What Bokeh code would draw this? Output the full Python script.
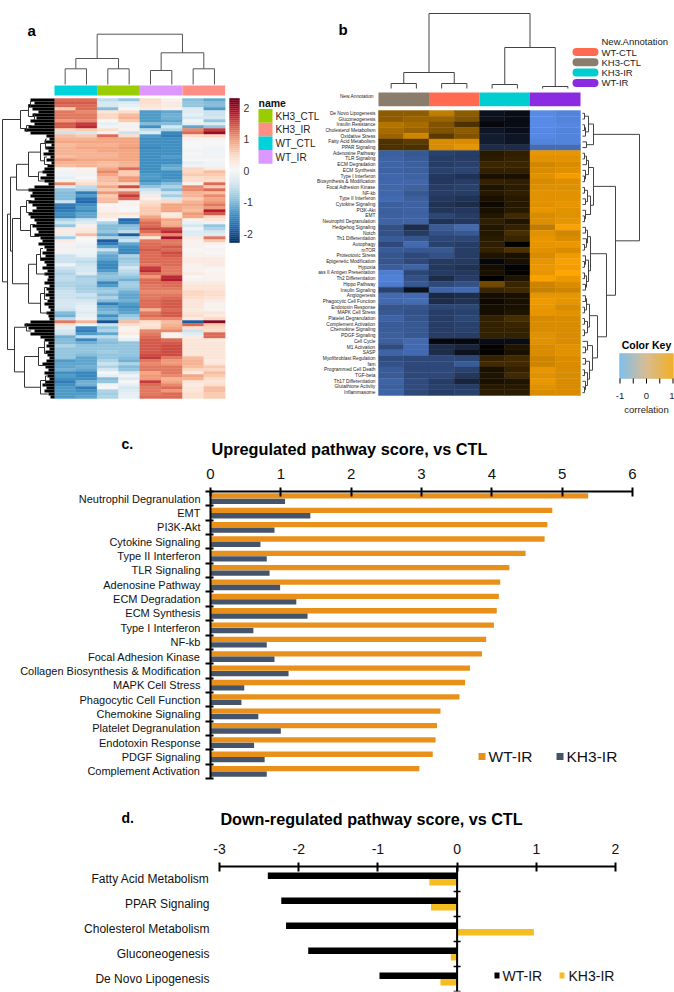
from bokeh.plotting import figure
from bokeh.layouts import column
from bokeh.models import Range1d, FixedTicker, Span, LinearColorMapper
from bokeh.core.properties import value
from bokeh.transform import transform
from bokeh.embed import file_html
from bokeh.resources import INLINE

# ---- panel a ----
groups_a = ["KH3_CTL", "KH3_IR", "WT_CTL", "WT_IR"]
group_colors_a = ["#9ACD00", "#FF8F85", "#00D2DC", "#DC98FF"]
col_groups_a = ["WT_CTL", "KH3_CTL", "WT_IR", "KH3_IR"]
colorbar_ticks_a = [2, 1, 0, -1, -2]
heat_a = [
[1.3,1.3,-.6,-.9,.4,.1,-1.0,-1.2],[1.4,1.4,-.4,-.3,.4,.2,-.9,-1.0],[1.3,1.3,-.4,-.2,.3,.2,-.9,-1.0],
[.6,1.3,-1.0,.0,.2,.1,-.3,-1.3],[1.2,1.1,.3,.4,-1.3,-1.2,-.3,-.5],[1.2,1.2,.5,.7,-1.3,-1.1,-.2,-.5],
[1.2,1.2,.5,.8,-1.3,-1.1,-.4,-.4],[1.0,1.1,.0,.6,-1.3,-1.2,-.1,-.9],[1.4,1.6,-.2,.1,-1.0,-1.0,-.2,-.3],
[1.4,1.7,-.1,-.1,-1.4,-.4,-1.2,-.9],[.5,.6,.4,.1,-.6,-.7,1.1,1.6],[-.5,-.4,-.1,-.5,-.3,-1.5,1.3,2.0],
[.7,.6,1.3,.4,-1.3,-1.6,.4,.5],[.8,.8,.9,.9,-1.4,-1.4,.1,.1],[.9,.9,.9,.9,-1.4,-1.4,.0,.0],
[.7,.8,.8,.9,-1.4,-1.4,.0,.0],[.8,.9,.9,1.0,-1.5,-1.4,.0,-.1],[.8,.8,.9,.9,-1.4,-1.4,-.1,-.1],
[.8,.8,.8,.9,-1.4,-1.4,.0,-.1],[.7,.8,.8,.9,-1.4,-1.3,-.1,-.1],[1.0,.9,.9,.9,-1.4,-1.4,.0,.0],
[.8,.8,.7,.8,-1.4,-1.4,-.2,-.1],[.7,.8,.7,.8,-1.4,-1.2,-.1,-.1],[.0,.1,.9,1.3,-1.4,-1.1,.5,.2],
[-.1,.1,1.1,.6,-1.4,-1.4,.5,.7],[-.1,-.1,.9,.6,-1.3,-1.4,.6,.6],[-.2,.0,.7,1.0,-1.3,-1.4,.4,.5],
[.1,.2,.7,1.0,-1.4,-1.3,.4,.4],[1.1,.4,.6,.5,-1.2,-1.0,.1,1.3],[-.3,-.6,.9,1.5,-.9,-.7,1.1,.6],
[-.9,-.7,.6,.5,-.5,-1.0,1.1,1.3],[-1.0,-1.6,1.0,1.2,-.3,-.5,.8,.7],[-1.0,-1.3,.6,1.6,.2,-.8,.8,1.1],
[-1.0,-1.7,.7,1.3,.1,-.4,.6,.9],[-.5,-1.8,.7,.0,.4,.5,.8,1.0],[-1.6,-1.4,.0,.1,.5,.9,.9,1.2],
[-1.7,-1.3,.1,.0,.6,.9,.8,1.0],[-1.6,-1.4,.1,.0,.6,.9,.7,1.8],[-1.4,-1.2,.3,.3,.6,.2,1.0,1.4],
[-1.5,-1.2,.2,.1,.9,.3,.9,.5],[-.7,-.5,.0,-1.8,1.1,.9,.1,.3],[-.5,-.3,-.7,-1.6,1.3,.8,-.2,-.1],
[-.9,.1,-1.0,-1.0,1.3,.9,-.4,-.9],[.2,.2,-1.0,-.9,1.5,1.5,-.1,-.7],[.2,.3,-.9,-.6,1.3,1.7,-.3,-.4],
[-.2,.7,-1.2,-1.9,1.0,1.1,-.3,-.3],[-.8,.0,-.7,-.7,.3,1.9,.2,1.2],[.2,.0,-1.9,-.5,1.2,1.2,.1,.6],
[.1,-.1,-1.6,-1.2,1.3,1.2,.1,.1],[-.1,-.2,-1.2,-1.4,1.3,1.4,.1,.0],[.1,-.1,-.5,-1.5,1.4,1.3,.0,.1],
[-.1,-.1,-1.0,-1.5,1.3,1.5,.1,.0],[-.5,-.2,-1.2,-.7,1.3,1.4,.1,.1],[-.5,-.5,-1.2,-.9,1.3,1.3,.2,.2],
[-.5,-.6,-1.4,-.8,1.3,1.3,.2,.2],[-.1,-.5,-1.5,-.7,1.2,1.3,.1,.2],[-.5,-.4,-1.5,-.4,1.6,1.2,.1,.1],
[-.6,-.4,-1.3,-.6,1.7,1.2,.1,.0],[-.7,-.3,-1.0,-.7,1.3,1.2,.2,.1],[-.6,-.8,-.9,-.9,1.0,1.7,.0,.1],
[-.6,-.7,-1.0,-1.1,1.3,1.8,.1,.1],[-.7,-.7,-1.5,-.8,1.3,1.3,.2,.2],[-.7,-.8,-1.3,-.8,1.2,1.3,.3,.3],
[-.6,-.8,-.9,-.9,1.2,1.2,.3,.3],[-.5,-.7,-.8,-1.1,1.1,1.1,.5,.4],[-.5,-.5,-1.0,-1.2,1.2,1.2,.5,.4],
[-.5,-.6,-.7,-1.2,1.2,1.3,.4,.3],[-.4,-.4,-1.0,-1.1,1.3,1.4,.3,.2],[-.4,-.3,-1.6,-1.3,1.3,1.4,.3,.1],
[-.4,-.2,-1.2,-1.4,1.3,1.4,.3,.1],[-.5,-.2,-1.1,-1.3,.8,1.3,.2,.1],[-1.0,-.3,-1.0,-1.2,1.2,1.4,.3,.3],
[-1.1,-.2,-1.4,-.9,1.3,1.4,.4,.2],[-.6,-.1,-1.1,-.7,1.1,1.1,.2,.5],[1.2,.8,-2.0,.7,.4,.7,-1.9,2.1],
[.4,-.1,-.5,.4,.3,.8,1.3,.6],[-.2,-1.5,-.9,.1,.4,.9,.4,.5],[-.4,-1.6,-.7,.1,1.1,1.1,-.5,.4],
[-.5,-1.3,-1.2,.2,1.2,.1,-.3,1.3],[-1.1,-.6,-.6,.0,1.3,.1,.2,1.3],[-1.0,-1.5,-.9,-.2,1.4,1.3,.3,.2],
[-1.0,-1.1,-1.0,-.9,1.4,1.4,.3,.3],[-.7,-.9,-.9,-.9,1.4,1.5,.3,.3],[-.9,-.9,-.9,-.9,1.4,1.5,.3,.3],
[-.9,-.9,-.8,-.9,1.4,1.5,.3,.3],[-.9,-1.0,-.9,-.9,1.5,1.5,.3,.3],[-.9,-1.2,-.9,-1.0,1.6,1.2,.7,.3],
[-1.3,-1.2,-.7,-1.1,1.2,1.0,.8,.2],[-1.2,-1.2,-.5,-.7,1.1,1.0,.8,.3],[-1.2,-1.1,-.7,-1.0,1.2,1.2,.7,.6],
[-1.1,-1.2,-.4,-.9,1.2,1.2,.5,.5],[-1.4,-1.5,.0,-.4,.9,1.2,.2,.7],[-1.3,-1.5,-.2,-.1,1.0,1.1,.9,.6],
[-1.4,-1.4,-1.0,-.3,1.0,.8,.8,.4],[-1.6,-1.1,-.9,.0,1.6,.9,.3,.3],[-1.4,-1.1,-.1,-.2,1.3,1.1,.2,.4],
[-1.3,-1.6,.0,-.4,1.2,1.3,.3,.7],[-1.3,-1.4,-.7,-.3,1.2,1.0,.3,.7],[-1.3,-1.3,-.8,-.2,1.2,1.3,.4,.6],
[-1.3,-1.2,-.7,-.2,1.3,1.3,.4,.6]]
leaf_depth_a = [24,20,26,22,16,22,18,24,20,26,30,24,
8,5,10,3,9,6,11,4,8,3,7,10,12,8,14,10,6,20,26,22,
24,20,26,22,18,22,26,24,20,18,22,18,16,20,
14,12,16,10,8,12,9,14,10,8,12,7,10,6,
7,10,5,8,6,9,5,7,10,6,4,8,6,5,
24,30,26,20,24,
14,10,6,8,5,9,7,5,8,12,9,6,10,7,5,9,12,8,10,6,4]
# dendrograms: (height, child, child); int = leaf, [start, end] = block of leaves
col_tree_a = (50.3, (26, (15.7, 0, 1), (15.7, 2, 3)), (31.7, (14, 4, 5), (15.7, 6, 7)))
row_tree_a = (52,
  (34, (26, (24, [0,1], [2,3]), (20, [4,5], [6,7])), (28, [8,9], [10,11])),
  (47,
    (44,
      (38, (26, (14, (9, [12,14], [15,17]), (10, [18,20], [21,22])), (16, [23,25], [26,28])), [29,31]),
      (42, (34, (28, [32,35], [36,39]), (24, [40,43], [44,47])),
           (26, (18, (14, [48,51], [52,55]), [56,60]), (14, (10, [61,64], [65,68]), [69,73])))),
    (40, (28, [74,75], [76,78]),
         (30, (16, (10, [79,82], [83,86]), [87,90]), (14, (9, [91,93], [94,96]), [97,99])))))

# ---- panel b ----
groups_b = ["WT-CTL", "KH3-CTL", "KH3-IR", "WT-IR"]
group_colors_b = ["#FF6A50", "#8B7D6B", "#00CDD0", "#8A2BE2"]
col_groups_b = ["KH3-CTL", "WT-CTL", "KH3-IR", "WT-IR"]
labels_b = ["De Novo Lipogenesis","Gluconeogenesis","Insulin Resistance","Cholesterol Metabolism","Oxidative Stress",
"Fatty Acid Metabolism","PPAR Signaling","Adenosine Pathway","TLR Signaling","ECM Degradation","ECM Synthesis",
"Type I Interferon","Biosynthesis & Modification","Focal Adhesion Kinase","NF-kb","Type II Interferon",
"Cytokine Signaling","PI3K-Akt","EMT","Neutrophil Degranulation","Hedgehog Signaling","Notch","Th1 Differentiation",
"Autophagy","mTOR","Proteotoxic Stress","Epigenetic Modification","Hypoxia","ass II Antigen Presentation",
"Th2 Differentiation","Hippo Pathway","Insulin Signaling","Angiogenesis","Phagocytic Cell Function",
"Endotoxin Response","MAPK Cell Stress","Platelet Degranulation","Complement Activation","Chemokine Signaling",
"PDGF Signaling","Cell Cycle","M1 Activation","SASP","Myofibroblast Regulation","fam","Programmed Cell Death",
"TGF-beta","Th17 Differentiation","Glutathione Activity","Inflammasome"]
heat_b = [
[.55,.55,.75,.55,-.12,-.08,-.95,-.9],[.55,.6,.6,.5,-.12,-.08,-.95,-.9],[.7,.65,.5,.3,-.05,-.08,-.95,-.92],
[.65,.6,.5,.55,-.15,-.1,-.93,-.9],[.6,.8,.35,.5,-.2,-.15,-.93,-.9],[.3,.35,.85,.85,-.2,-.15,-.9,-.9],
[.3,.3,.85,.9,-.3,-.3,-.75,-.75],[-.65,-.6,-.45,-.42,.15,.18,.9,.9],[-.67,-.62,-.42,-.42,.17,.2,.88,.88],
[-.68,-.65,-.42,-.45,.23,.22,.82,.85],[-.67,-.65,-.45,-.47,.2,.2,.85,.87],[-.7,-.67,-.38,-.35,.1,.1,.88,.95],
[-.7,-.7,-.38,-.42,.2,.18,.84,.86],[-.7,-.67,-.42,-.45,.12,.17,.87,.87],[-.7,-.6,-.42,-.42,.15,.18,.88,.88],
[-.72,-.65,-.38,-.35,.1,.15,.88,.88],[-.65,-.67,-.35,-.3,.06,.15,.88,.9],[-.65,-.67,-.37,-.38,.1,.15,.9,.88],
[-.66,-.67,-.48,-.42,.14,.25,.85,.88],[-.68,-.68,-.35,-.38,.18,.13,.86,.9],[-.55,-.32,-.62,-.72,.14,.2,.75,.98],
[-.55,-.4,-.55,-.6,.14,.28,.88,.82],[-.62,-.58,-.48,-.48,.16,.22,.9,.85],[-.5,-.72,-.45,-.42,.18,.0,.9,.92],
[-.62,-.6,-.6,-.42,.2,.3,.88,.85],[-.58,-.5,-.55,-.42,.12,.1,.85,.93],[-.58,-.5,-.4,-.4,-.05,.1,.9,.97],
[-.63,-.68,-.38,-.35,.08,-.02,.92,.95],[-.85,-.48,-.4,-.38,.1,.02,.9,1.0],[-.88,-.55,-.3,-.42,.0,.12,.97,.92],
[-.85,-.6,-.5,-.55,.45,.22,.8,.85],[-.45,-.12,-.68,-.72,.22,.25,.78,.8],[-.72,-.72,-.28,-.32,.08,.1,.9,.9],
[-.72,-.75,-.3,-.35,.05,.1,.93,.9],[-.58,-.58,-.48,-.48,.08,.1,.92,.85],[-.6,-.55,-.42,-.45,.08,.12,.9,.88],
[-.68,-.58,-.42,-.48,.2,.28,.83,.85],[-.62,-.6,-.42,-.45,.2,.22,.85,.85],[-.62,-.6,-.42,-.45,.2,.2,.85,.85],
[-.65,-.6,-.42,-.42,.2,.2,.88,.85],[-.65,-.72,-.05,-.05,-.08,-.08,.88,.85],[-.52,-.72,-.3,-.25,.02,.12,.85,.88],
[-.68,-.72,-.3,-.12,.02,.1,.85,.88],[-.52,-.5,-.5,-.48,.2,.25,.8,.85],[-.55,-.5,-.5,-.62,.25,.25,.8,.85],
[-.62,-.5,-.5,-.45,.1,.2,.9,.85],[-.62,-.5,-.5,-.38,.12,.25,.88,.85],[-.68,-.52,-.42,-.25,.1,.12,.92,.85],
[-.65,-.52,-.45,-.42,.15,.15,.88,.85],[-.68,-.5,-.42,-.45,.17,.17,.85,.85]]
col_tree_b = (75, (16, (5, 0, 1), (5, 2, 3)), (41, (4, 4, 5), (2, 6, 7)))
row_tree_b = (57,
  (11, (6, (2, 0, 1), (3, (2, 2, 3), 4)), (4, 5, 6)),
  (33,
    (11, (6, (4, (2, 7, 8), 9), (3, 10, (2, 11, 12))), (8, (5, (2, 13, 14), (3, 15, 16)), (3, 17, (2, 18, 19)))),
    (24,
      (8, (5, (3, 20, 21), (4, 22, (2, 23, 24))), (6, (3, 25, (2, 26, 27)), (4, (2, 28, 29), (3, 30, 31)))),
      (15,
        (7, (4, (3, 32, 33), (2, 34, 35)), (5, (2, 36, 37), (2, 38, 39))),
        (10, (5, 40, (3, 41, 42)), (7, (3, 43, 44), (5, (2, 45, 46), (3, 47, (2, 48, 49)))))))))
key_ticks_b = [-1, 0, 1]

# ---- panel c ----
pathways_c = ["Neutrophil Degranulation","EMT","PI3K-Akt","Cytokine Signaling","Type II Interferon","TLR Signaling",
"Adenosine Pathway","ECM Degradation","ECM Synthesis","Type I Interferon","NF-kb","Focal Adhesion Kinase",
"Collagen Biosynthesis & Modification","MAPK Cell Stress","Phagocytic Cell Function","Chemokine Signaling",
"Platelet Degranulation","Endotoxin Response","PDGF Signaling","Complement Activation"]
wt_ir_c = [5.37,4.86,4.79,4.75,4.48,4.25,4.12,4.10,4.07,4.03,3.92,3.86,3.69,3.62,3.54,3.27,3.22,3.20,3.16,2.97]
kh3_ir_c = [1.06,1.42,0.91,0.71,0.80,0.84,0.99,1.22,1.38,0.61,0.80,0.91,1.11,0.48,0.44,0.68,1.00,0.62,0.77,0.80]
ticks_c = [0, 1, 2, 3, 4, 5, 6]

# ---- panel d ----
pathways_d = ["Fatty Acid Metabolism","PPAR Signaling","Cholesterol Metabolism","Gluconeogenesis","De Novo Lipogenesis"]
wt_ir_d = [-2.39,-2.22,-2.16,-1.88,-0.98]
kh3_ir_d = [-0.35,-0.33,0.97,-0.08,-0.21]
ticks_d = [-3, -2, -1, 0, 1, 2]

SANS = "Liberation Sans"
DARK = "#111111"


def ramp(stops, n):
    rgb = [tuple(int(c[i:i + 2], 16) for i in (1, 3, 5)) for c in stops]
    out = []
    for k in range(n):
        t = k / (n - 1) * (len(rgb) - 1)
        i = min(int(t), len(rgb) - 2)
        f = t - i
        out.append("#%02x%02x%02x" % tuple(round(rgb[i][j] + (rgb[i + 1][j] - rgb[i][j]) * f) for j in range(3)))
    return out


rdbu = ramp(["#053061", "#2166AC", "#4393C3", "#92C5DE", "#D1E5F0", "#F7F7F7",
             "#FDDBC7", "#F4A582", "#D6604D", "#B2182B", "#67001F"], 256)
corr = ramp(["#5C92F2", "#000000", "#FFA500"], 256)
key_pal = ["#6DB6E9", "#D3B283", "#EFA50C"]


def panel(w, h, xr, yr):
    return figure(width=w, height=h, x_range=Range1d(*xr), y_range=Range1d(*yr), x_axis_type=None, y_axis_type=None,
                  toolbar_location=None, output_backend="svg", min_border=0, outline_line_color=None, frame_align=False)


def put_text(p, x, y, s, size, style="normal", align="left", color=DARK):
    p.text(x=[x], y=[y], text=[s], text_font=value(SANS), text_font_size=value(f"{size}px"), text_font_style=style,
           text_align=align, text_baseline="middle", text_color=color)


def walk(node, leaf_y, leaf_h, out):
    """Returns (position, height) of a node and stores its bracket lines."""
    if isinstance(node, int):
        return leaf_y(node, node), leaf_h(node, node)
    if isinstance(node, list):
        return leaf_y(node[0], node[1]), leaf_h(node[0], node[1])
    h, a, b = node
    pa, ha = walk(a, leaf_y, leaf_h, out)
    pb, hb = walk(b, leaf_y, leaf_h, out)
    out.append(((pa, ha), (pa, h), (pb, h), (pb, hb)))
    return (pa + pb) / 2, h


def heat(p, rows, mapper, x0, cw, y0, rh):
    xs, ys, vs = [], [], []
    for r, vals in enumerate(rows):
        for c, v in enumerate(vals):
            xs.append(x0 + (c + .5) * cw); ys.append(y0 + (r + .5) * rh); vs.append(v)
    p.rect("x", "y", cw, rh, source=dict(x=xs, y=ys, v=vs), fill_color=transform("v", mapper),
           line_color=transform("v", mapper), line_width=0.4)


# the two heatmap panels and the title of panel c share one drawing area
TOP_H = 462
pt = panel(674, TOP_H, (0, 674), (TOP_H, 0))

# ================= panel a ==================
AX0, AY0, ACW, ARH = 54.0, 98.0, 21.33, 3.0
heat(pt, heat_a, LinearColorMapper(palette=rdbu, low=-2.29, high=2.29), AX0, ACW, AY0, ARH)
for i, g in enumerate(col_groups_a):
    pt.quad(left=[AX0 + 2 * i * ACW], right=[AX0 + (2 * i + 2) * ACW], top=[85], bottom=[95],
            fill_color=group_colors_a[groups_a.index(g)], line_color=None)
lines = []
walk(col_tree_a, lambda a, b: AX0 + ((a + b) / 2 + .5) * ACW, lambda a, b: 0, lines)
pt.multi_line([[q[0] for q in l] for l in lines], [[84 - q[1] for q in l] for l in lines],
              line_color="#555555", line_width=1)
pt.hbar(y=[AY0 + (i + .5) * ARH for i in range(len(leaf_depth_a))], height=ARH, right=AX0,
        left=[AX0 - d for d in leaf_depth_a], fill_color="#000000", line_color=None)
lines = []
walk(row_tree_a, lambda a, b: AY0 + (a + b + 1) / 2 * ARH,
     lambda a, b: sum(leaf_depth_a[a:b + 1]) / (b - a + 1), lines)
pt.multi_line([[AX0 - q[1] for q in l] for l in lines], [[q[0] for q in l] for l in lines],
              line_color="#333333", line_width=1)

# colour bar
n = 72
vals = [2.29 - 4.58 * (k + .5) / n for k in range(n)]
scale_a = lambda v: 170 - 31.5 * v
bar_cols = [rdbu[int((v + 2.29) / 4.58 * 255)] for v in vals]
pt.quad(left=229, right=239, top=[scale_a(v + 4.58 / n / 2) for v in vals],
        bottom=[scale_a(v - 4.58 / n / 2) for v in vals], fill_color=bar_cols, line_color=bar_cols, line_width=0.3)
for t in colorbar_ticks_a:
    put_text(pt, 243, scale_a(t), str(t), 10.5, color="#333333")
put_text(pt, 258, 102, "name", 10.5, "bold")
for i, g in enumerate(groups_a):
    pt.quad(left=[258], right=[272], top=[108.5 + 13.7 * i], bottom=[122.2 + 13.7 * i],
            fill_color=group_colors_a[i], line_color=None)
    put_text(pt, 275, 115.5 + 13.7 * i, g, 10, color="#222222")
put_text(pt, 27, 30, "a", 15, "bold", color="#000000")

# ================= panel b ==================
BX0, BY0, BCW, BRH = 378.0, 110.0, 25.25, 5.7
heat(pt, heat_b, LinearColorMapper(palette=corr, low=-1, high=1), BX0, BCW, BY0, BRH)
for r, lab in enumerate(labels_b):
    put_text(pt, 375, BY0 + (r + .5) * BRH, lab, 4.8, align="right", color="#222222")
for i, g in enumerate(col_groups_b):
    pt.quad(left=[BX0 + 2 * i * BCW], right=[BX0 + (2 * i + 2) * BCW], top=[92], bottom=[105.7],
            fill_color=group_colors_b[groups_b.index(g)], line_color=None)
put_text(pt, 373, 96, "New.Annotation", 4.8, align="right", color="#222222")
lines = []
walk(col_tree_b, lambda a, b: BX0 + ((a + b) / 2 + .5) * BCW, lambda a, b: 0, lines)
pt.multi_line([[q[0] for q in l] for l in lines], [[88 - q[1] for q in l] for l in lines],
              line_color="#444444", line_width=1)
lines = []
walk(row_tree_b, lambda a, b: BY0 + (a + b + 1) / 2 * BRH, lambda a, b: 0, lines)
pt.multi_line([[582 + q[1] for q in l] for l in lines], [[q[0] for q in l] for l in lines],
              line_color="#444444", line_width=1)

put_text(pt, 601, 41, "New.Annotation", 9.5, color="#222222")
for i, g in enumerate(groups_b):
    py = 51.5 + 10.3 * i
    pt.segment(x0=[576], x1=[594], y0=[py], y1=[py], line_color=group_colors_b[i], line_width=8, line_cap="round")
    put_text(pt, 601, py, g, 9.5, color="#222222")

put_text(pt, 646, 344, "Color Key", 10.5, "bold", align="center", color="#000000")
key_steps = ramp(key_pal, 54)
pt.quad(left=[619 + k for k in range(54)], right=[620 + k for k in range(54)], top=353, bottom=378,
        fill_color=key_steps, line_color=key_steps, line_width=0.3)
for t in [-1, -.5, 0, .5, 1]:
    kx = 646 + 26.5 * t
    pt.segment(x0=[kx], x1=[kx], y0=[378], y1=[383], line_color="#000000", line_width=1)
for t in key_ticks_b:
    put_text(pt, 646 + 26.5 * t - (1 if t == 1 else 0), 395, str(t), 9.5, align="center", color="#222222")
put_text(pt, 646, 409, "correlation", 9.5, align="center", color="#222222")
put_text(pt, 338, 29, "b", 15, "bold", color="#000000")

# title of panel c
put_text(pt, 349, 448, "Upregulated pathway score, vs CTL", 16.3, "bold", align="center", color="#000000")
put_text(pt, 121, 443, "c.", 14, "bold", color="#000000")


# ================= bar panels ==================
def bars(w, h, left, right, top, bottom, xr, cats, xticks, lab_size, tick_size, standoff):
    n = len(cats)
    p = figure(width=w, height=h, x_range=Range1d(*xr), y_range=Range1d(n, 0), x_axis_location="above",
               toolbar_location=None, output_backend="svg", outline_line_color=None, min_border_left=left,
               min_border_right=right, min_border_top=top, min_border_bottom=bottom, frame_align=False)
    p.grid.visible = False
    xa = p.xaxis[0]
    xa.ticker = FixedTicker(ticks=xticks)
    xa.major_label_overrides = {t: str(t) for t in xticks}
    xa.axis_line_width = 2
    xa.axis_line_color = "#000000"
    xa.major_tick_line_width = 2
    xa.major_tick_line_color = "#000000"
    xa.major_tick_in = 5
    xa.major_tick_out = 4
    xa.major_label_text_font = SANS
    xa.major_label_text_font_size = f"{tick_size}px"
    xa.major_label_text_color = DARK
    xa.major_label_standoff = 9
    ya = p.yaxis[0]
    centers = [i + .5 for i in range(n)]
    ya.major_label_overrides = {c: cats[i] for i, c in enumerate(centers)}
    ya.major_label_text_font = SANS
    ya.major_label_text_font_size = f"{lab_size}px"
    ya.major_label_text_color = DARK
    ya.major_label_standoff = standoff
    ya.major_tick_line_color = None
    ya.major_tick_out = 0
    ya.major_tick_in = 0
    return p, centers


# ----- c -----
pc, cen = bars(674, 333, 210, 42, 29, 17, (0, 6), pathways_c, ticks_c, 11, 15, 5)
ya = pc.yaxis[0]
ya.ticker = FixedTicker(ticks=cen, minor_ticks=list(range(len(pathways_c) + 1)))
ya.axis_line_width = 2
ya.axis_line_color = "#000000"
ya.minor_tick_line_width = 2
ya.minor_tick_line_color = "#000000"
ya.minor_tick_in = 3
ya.minor_tick_out = 5
pc.hbar(y=[c - .19 for c in cen], right=wt_ir_c, left=0, height=.37, fill_color="#E8901A", line_color=None)
pc.hbar(y=[c + .19 for c in cen], right=kh3_ir_c, left=0, height=.37, fill_color="#44546A", line_color=None)
cx = lambda px: (px - 210) / 70.33
cy = lambda py: (py - 491) / 14.35
pc.quad(left=[cx(478)], right=[cx(485)], top=[cy(752.5)], bottom=[cy(759.5)], fill_color="#E8901A", line_color=None)
pc.text(x=[cx(488)], y=[cy(756)], text=["WT-IR"], text_font=value(SANS), text_font_size=value("15.5px"),
        text_baseline="middle", text_color=DARK)
pc.quad(left=[cx(556)], right=[cx(563)], top=[cy(752.5)], bottom=[cy(759.5)], fill_color="#44546A", line_color=None)
pc.text(x=[cx(566)], y=[cy(756)], text=["KH3-IR"], text_font=value(SANS), text_font_size=value("15.5px"),
        text_baseline="middle", text_color=DARK)

# ----- title band of panel d -----
BAND_TOP, BAND_BOTTOM = 795, 835
pband = panel(674, BAND_BOTTOM - BAND_TOP, (0, 674), (BAND_BOTTOM, BAND_TOP))
put_text(pband, 371, 818, "Down-regulated pathway score, vs CTL", 16.2, "bold", align="center", color="#000000")
put_text(pband, 121, 817, "d.", 14, "bold", color="#000000")

# ----- d -----
pd, cen = bars(674, 157, 219, 59, 31, 1, (-3, 2), pathways_d, ticks_d, 12, 14, 10)
ya = pd.yaxis[0]
ya.ticker = FixedTicker(ticks=cen)
ya.axis_line_color = None
pd.hbar(y=[c - .13 for c in cen], right=wt_ir_d, left=0, height=.26, fill_color="#000000", line_color=None)
pd.hbar(y=[c + .13 for c in cen], right=kh3_ir_d, left=0, height=.26, fill_color="#F5BD1F", line_color=None)
pd.add_layout(Span(location=0, dimension="height", line_color="#000000", line_width=2))
pd.scatter(x=[0] * len(cen), y=list(range(1, len(cen) + 1)), marker="dash", size=7, line_color="#000000", line_width=1.5)
dx = lambda px: (px - 456.6) / 79.2
dy = lambda py: (py - 866) / 25
pd.quad(left=[dx(494)], right=[dx(499)], top=[dy(972)], bottom=[dy(978)], fill_color="#000000", line_color=None)
pd.text(x=[dx(502)], y=[dy(975)], text=["WT-IR"], text_font=value(SANS), text_font_size=value("14px"),
        text_baseline="middle", text_color=DARK)
pd.quad(left=[dx(559)], right=[dx(564)], top=[dy(972)], bottom=[dy(978)], fill_color="#F5BD1F", line_color=None)
pd.text(x=[dx(568)], y=[dy(975)], text=["KH3-IR"], text_font=value(SANS), text_font_size=value("14px"),
        text_baseline="middle", text_color=DARK)

page = column(pt, pc, pband, pd)
open("out.html", "w").write(file_html(page, INLINE))
